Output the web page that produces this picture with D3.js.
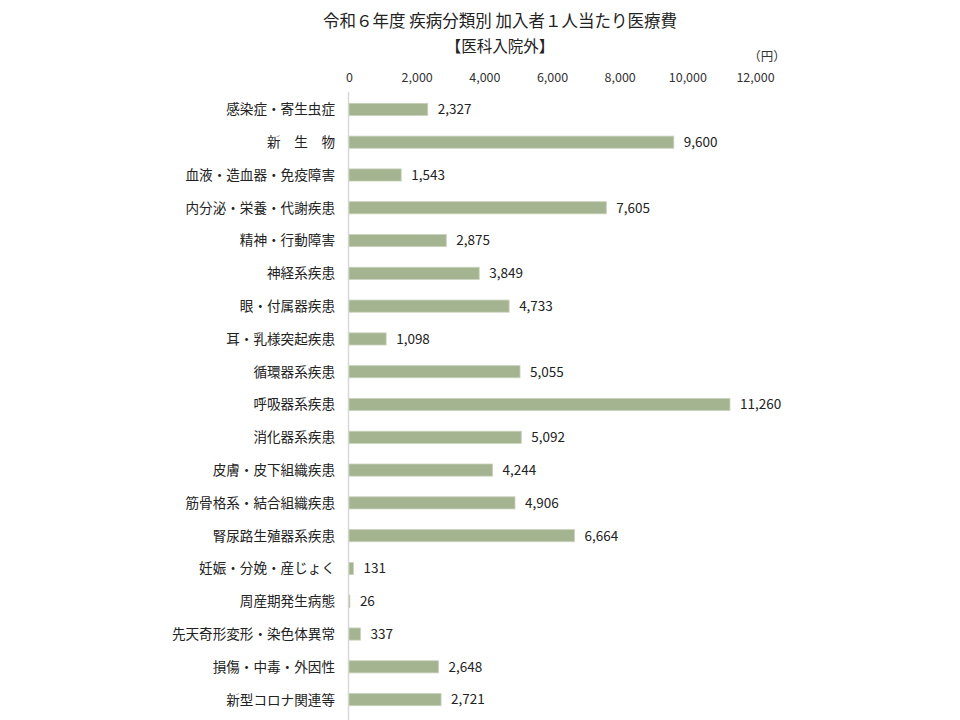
<!DOCTYPE html>
<html><head><meta charset="utf-8">
<script src="https://cdn.jsdelivr.net/npm/d3@7"></script>
<style>body{margin:0;background:#fff;} svg{display:block;}</style>
</head><body>
<svg id="c" width="960" height="720"></svg>
<script>
const categories = ["感染症・寄生虫症","新　生　物","血液・造血器・免疫障害","内分泌・栄養・代謝疾患","精神・行動障害","神経系疾患","眼・付属器疾患","耳・乳様突起疾患","循環器系疾患","呼吸器系疾患","消化器系疾患","皮膚・皮下組織疾患","筋骨格系・結合組織疾患","腎尿路生殖器系疾患","妊娠・分娩・産じょく","周産期発生病態","先天奇形変形・染色体異常","損傷・中毒・外因性","新型コロナ関連等"];
const values = [2327,9600,1543,7605,2875,3849,4733,1098,5055,11260,5092,4244,4906,6664,131,26,337,2648,2721];
const tickValues = [0,2000,4000,6000,8000,10000,12000];
const title = "令和６年度 疾病分類別 加入者１人当たり医療費";
const subtitle = "【医科入院外】";
const unit = "（円）";

const font = "'Noto Sans CJK JP','Noto Sans',sans-serif";
const svg = d3.select("#c");
const x = d3.scaleLinear().domain([0,12000]).range([349,755]);
const y = d3.scaleBand().domain(categories).range([93,716]).paddingInner(0.63).paddingOuter(0.315);

svg.append("text").attr("x",500).attr("y",27).attr("text-anchor","middle")
  .attr("font-family",font).attr("font-size",16.5).attr("fill","#222").text(title);
svg.append("text").attr("x",500).attr("y",52).attr("text-anchor","middle")
  .attr("font-family",font).attr("font-size",15.5).attr("fill","#222").text(subtitle);
svg.append("text").attr("x",767).attr("y",61).attr("text-anchor","middle")
  .attr("font-family",font).attr("font-size",12.5).attr("fill","#333").text(unit);

const ax = svg.append("g").attr("transform","translate(0,85)")
  .call(d3.axisTop(x).tickValues(tickValues).tickSize(0).tickFormat(d3.format(",")));
ax.select(".domain").remove();
ax.selectAll("text").attr("font-family",font).attr("font-size",12.5).attr("fill","#333");

svg.append("line").attr("x1",348.5).attr("x2",348.5).attr("y1",92).attr("y2",720)
  .attr("stroke","#d9d9d9").attr("stroke-width",1.5);

svg.selectAll("rect.bar").data(values).join("rect").attr("class","bar")
  .attr("x",x(0)).attr("y",(d,i)=>y(categories[i]))
  .attr("width",d=>x(d)-x(0)).attr("height",y.bandwidth())
  .attr("fill","#a4b490").attr("stroke","#c8d2bb").attr("stroke-width",0.8);

svg.selectAll("text.val").data(values).join("text").attr("class","val")
  .attr("x",d=>x(d)+10).attr("y",(d,i)=>y(categories[i])+y.bandwidth()/2)
  .attr("dy","0.36em").attr("font-family",font).attr("font-size",13.5).attr("fill","#222")
  .text(d=>d3.format(",")(d));

svg.selectAll("text.cat").data(categories).join("text").attr("class","cat")
  .attr("x",335).attr("y",d=>y(d)+y.bandwidth()/2).attr("dy","0.36em")
  .attr("text-anchor","end").attr("font-family",font).attr("font-size",13.6).attr("fill","#222")
  .text(d=>d);
</script>
</body></html>
